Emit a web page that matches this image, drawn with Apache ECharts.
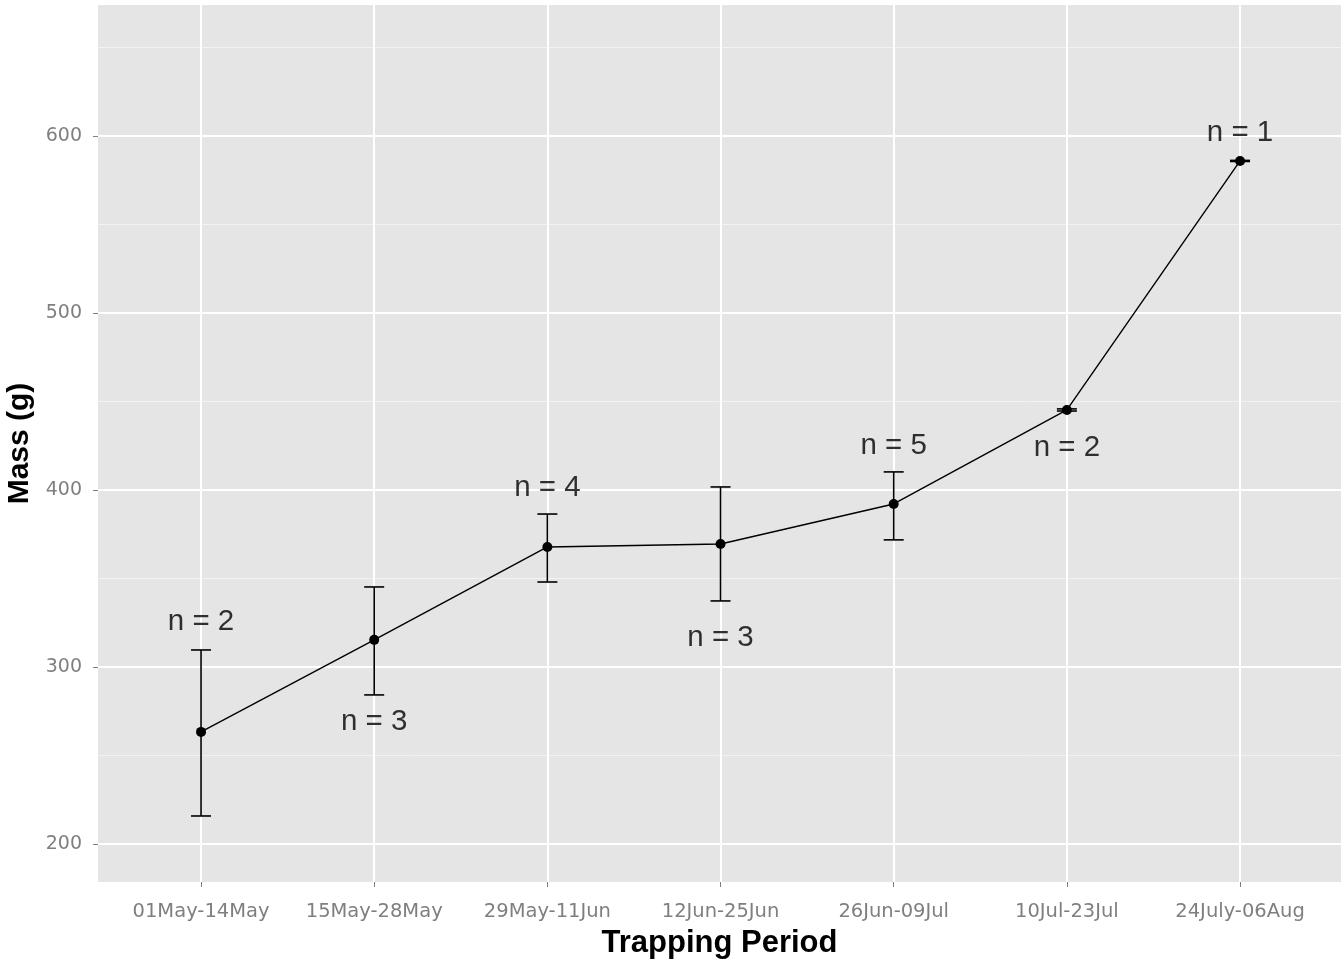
<!DOCTYPE html>
<html>
<head>
<meta charset="utf-8">
<script src="https://cdn.jsdelivr.net/npm/echarts@6/dist/echarts.min.js"></script>
<style>html,body{margin:0;padding:0;background:#fff;}#c{width:1341px;height:960px;}</style>
</head>
<body>
<div id="c"></div>
<script>
const categories = ['01May-14May','15May-28May','29May-11Jun','12Jun-25Jun','26Jun-09Jul','10Jul-23Jul','24July-06Aug'];
const meanMass = [263.3, 315.3, 367.8, 369.5, 392.1, 445.2, 585.9];
const errLow  = [215.8, 284.2, 348.0, 337.3, 371.8, 444.6, 585.6];
const errHigh = [309.6, 345.2, 386.4, 401.7, 410.2, 445.8, 586.2];
const nLabels = ['n = 2','n = 3','n = 4','n = 3','n = 5','n = 2','n = 1'];
const labelY  = [325.4, 268.9, 401.0, 316.4, 424.9, 423.7, 602.0];
const yMajorTicks = [200, 300, 400, 500, 600];
const yMinorTicks = [250, 350, 450, 550, 650];

const xIdx = categories.map((c, i) => i);
const FONT = '"Liberation Sans", Arial, sans-serif';
const TICKFONT = '"DejaVu Sans", sans-serif';

const chart = echarts.init(document.getElementById('c'), null, {renderer: 'canvas'});
chart.setOption({
  animation: false,
  backgroundColor: '#ffffff',
  grid: {left: 98, right: 0, top: 5, bottom: 78, show: true, backgroundColor: '#e5e5e5', borderWidth: 0,
         containLabel: false, outerBoundsMode: 'none'},
  xAxis: {
    type: 'value', min: -0.595, max: 6.583,
    axisLine: {show: false, onZero: false},
    axisTick: {show: true, customValues: xIdx, length: 5, lineStyle: {color: '#7f7f7f', width: 1}},
    axisLabel: {customValues: xIdx, formatter: v => categories[Math.round(v)], color: '#7f7f7f', fontSize: 19.5, fontFamily: TICKFONT, margin: 20},
    splitLine: {show: true, lineStyle: {color: '#ffffff', width: 2}},
    name: 'Trapping Period', nameLocation: 'middle', nameGap: 46,
    nameTextStyle: {color: '#000', fontSize: 31, fontWeight: 'bold', fontFamily: FONT}
  },
  yAxis: [{
    type: 'value', min: 178.5, max: 674,
    axisLine: {show: false, onZero: false},
    axisTick: {show: true, customValues: yMajorTicks, length: 5, lineStyle: {color: '#7f7f7f', width: 1}},
    axisLabel: {customValues: yMajorTicks, color: '#7f7f7f', fontSize: 19, fontFamily: TICKFONT, margin: 16},
    splitLine: {show: true, lineStyle: {color: '#ffffff', width: 2}},
    name: 'Mass (g)', nameLocation: 'middle', nameGap: 56, nameRotate: 90,
    nameTextStyle: {color: '#000', fontSize: 30, fontWeight: 'bold', fontFamily: FONT}
  }, {
    type: 'value', min: 178.5, max: 674, position: 'left',
    axisLine: {show: false, onZero: false},
    axisTick: {show: false, customValues: yMinorTicks},
    axisLabel: {show: false, customValues: yMinorTicks},
    splitLine: {show: true, lineStyle: {color: '#f2f2f2', width: 1}}
  }],
  series: [
    {
      type: 'custom', yAxisIndex: 0, z: 3,
      data: xIdx.map(i => [i, errLow[i], errHigh[i]]),
      renderItem: function (params, api) {
        const lo = api.coord([api.value(0), api.value(1)]);
        const hi = api.coord([api.value(0), api.value(2)]);
        const hw = 10;
        const st = {stroke: '#000', lineWidth: 1.6};
        return {type: 'group', children: [
          {type: 'line', shape: {x1: lo[0], y1: lo[1], x2: hi[0], y2: hi[1]}, style: st},
          {type: 'line', shape: {x1: lo[0]-hw, y1: lo[1], x2: lo[0]+hw, y2: lo[1]}, style: st},
          {type: 'line', shape: {x1: hi[0]-hw, y1: hi[1], x2: hi[0]+hw, y2: hi[1]}, style: st}
        ]};
      }
    },
    {
      type: 'line', yAxisIndex: 0, z: 4,
      data: xIdx.map(i => [i, meanMass[i]]),
      symbol: 'circle', symbolSize: 10, showSymbol: true,
      lineStyle: {color: '#000', width: 1.4},
      itemStyle: {color: '#000', borderWidth: 0}
    },
    {
      type: 'scatter', yAxisIndex: 0, z: 5,
      data: xIdx.map(i => ({value: [i, labelY[i]], name: nLabels[i]})),
      symbolSize: 0,
      label: {show: true, position: 'inside', formatter: p => p.name, color: '#000', fontSize: 29.5, fontFamily: FONT}
    }
  ]
});
</script>
</body>
</html>
